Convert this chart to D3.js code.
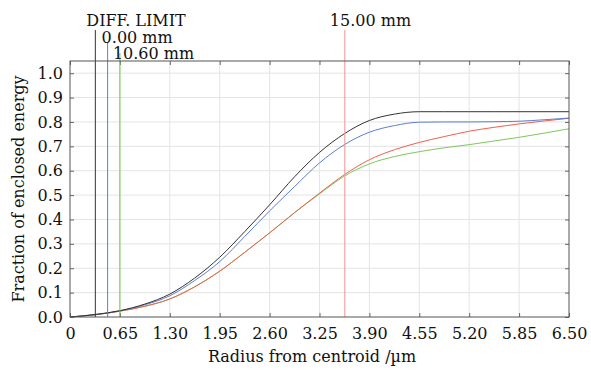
<!DOCTYPE html>
<html>
<head>
<meta charset="utf-8">
<script src="https://cdn.jsdelivr.net/npm/d3@7"></script>
<style>
  body { margin: 0; background: #fff; }
  svg text { font-family: "DejaVu Serif", serif; fill: #111; }
</style>
</head>
<body>
<div id="chart"></div>
<script>
// radius samples (µm)
const radius = [0, 0.325, 0.65, 0.975, 1.3, 1.625, 1.95, 2.275, 2.6, 2.925, 3.25,
  3.575, 3.9, 4.225, 4.55, 4.875, 5.2, 5.525, 5.85, 6.175, 6.5];

// enclosed energy per field
const diffLimit = [0, 0.010, 0.026, 0.053, 0.094, 0.160, 0.245, 0.350, 0.460, 0.575, 0.675,
  0.752, 0.806, 0.832, 0.842, 0.842, 0.842, 0.842, 0.842, 0.842, 0.842];
const field0 = [0, 0.010, 0.025, 0.050, 0.087, 0.150, 0.227, 0.330, 0.435, 0.535, 0.632,
  0.707, 0.758, 0.785, 0.799, 0.800, 0.800, 0.801, 0.803, 0.809, 0.816];
const field15 = [0, 0.009, 0.024, 0.044, 0.074, 0.124, 0.188, 0.265, 0.345, 0.428, 0.508,
  0.584, 0.645, 0.686, 0.716, 0.740, 0.762, 0.778, 0.792, 0.804, 0.815];
const field1060 = [0, 0.009, 0.024, 0.044, 0.074, 0.124, 0.188, 0.265, 0.345, 0.428, 0.505,
  0.578, 0.628, 0.658, 0.678, 0.694, 0.707, 0.722, 0.737, 0.754, 0.772];

// marker lines (radius, label)
const markerNames = ["DIFF. LIMIT", "0.00 mm", "10.60 mm", "15.00 mm"];
const markerRadius = [0.33, 0.49, 0.65, 3.58];

const xTicks = [0, 0.65, 1.3, 1.95, 2.6, 3.25, 3.9, 4.55, 5.2, 5.85, 6.5];
const xTickLabels = ["0", "0.65", "1.30", "1.95", "2.60", "3.25", "3.90", "4.55", "5.20", "5.85", "6.50"];
const yTicks = [0, 0.1, 0.2, 0.3, 0.4, 0.5, 0.6, 0.7, 0.8, 0.9, 1.0];
const yTickLabels = ["0.0", "0.1", "0.2", "0.3", "0.4", "0.5", "0.6", "0.7", "0.8", "0.9", "1.0"];

const W = 591, H = 370;
const margin = {top: 61, right: 22, bottom: 53, left: 70};
const width = W - margin.left - margin.right;
const height = H - margin.top - margin.bottom;

const svg = d3.select("#chart").append("svg")
  .attr("width", W)
  .attr("height", H);

const g = svg.append("g")
  .attr("transform", `translate(${margin.left},${margin.top})`);

const x = d3.scaleLinear().domain([0, 6.5]).range([0, width]);
const y = d3.scaleLinear().domain([0, 1.05]).range([height, 0]);

// grid
g.append("g").selectAll("line").data(xTicks.slice(1, -1)).join("line")
  .attr("x1", d => x(d)).attr("x2", d => x(d))
  .attr("y1", 0).attr("y2", height)
  .attr("stroke", "#e4e4e4");
g.append("g").selectAll("line").data(yTicks.slice(1)).join("line")
  .attr("x1", 0).attr("x2", width)
  .attr("y1", d => y(d)).attr("y2", d => y(d))
  .attr("stroke", "#e4e4e4");

// axes, ticks point inward
const fontSize = 16;
g.append("g")
  .attr("transform", `translate(0,${height})`)
  .call(d3.axisBottom(x).tickValues(xTicks).tickFormat((d, i) => xTickLabels[i])
    .tickSize(-4).tickPadding(11));
g.append("g")
  .call(d3.axisLeft(y).tickValues(yTicks).tickFormat((d, i) => yTickLabels[i])
    .tickSize(-4).tickPadding(7));
g.append("g")
  .call(d3.axisTop(x).tickValues(xTicks).tickFormat("").tickSize(-4));
g.append("g")
  .attr("transform", `translate(${width},0)`)
  .call(d3.axisRight(y).tickValues(yTicks).tickFormat("").tickSize(-4));

g.selectAll(".domain").remove();
g.selectAll(".tick line").attr("stroke", "#666");
g.selectAll(".tick text")
  .style("font-family", '"DejaVu Serif", serif')
  .style("font-size", fontSize + "px")
  .attr("fill", "#111");

// curves
const series = [
  {vals: field1060, color: "#7cc85c"},
  {vals: field15, color: "#f0604c"},
  {vals: field0, color: "#5c7ed2"},
  {vals: diffLimit, color: "#333333"}
];
const line = d3.line()
  .x((d, i) => x(radius[i]))
  .y(d => y(d))
  .curve(d3.curveMonotoneX);
g.append("g").selectAll("path").data(series).join("path")
  .attr("d", d => line(d.vals))
  .attr("fill", "none")
  .attr("stroke", d => d.color)
  .attr("stroke-width", 1);

// marker lines with labels above plot
const markerColors = ["#333333", "#5c7ed2", "#6cc84c", "#f49090"];
const markerTop = [-31, -18, -8, -31];     // px above plot top
const labelDx = [-9, -6, -7, -15];
const labelY = [-35, -18, -2, -35];
const mk = g.append("g");
markerRadius.forEach((r, i) => {
  mk.append("line")
    .attr("x1", x(r)).attr("x2", x(r))
    .attr("y1", markerTop[i]).attr("y2", height)
    .attr("stroke", markerColors[i])
    .attr("stroke-width", 1);
  mk.append("text")
    .attr("x", x(r) + labelDx[i])
    .attr("y", labelY[i])
    .style("font-size", fontSize + "px")
    .text(markerNames[i]);
});

// frame
g.append("rect")
  .attr("width", width).attr("height", height)
  .attr("fill", "none").attr("stroke", "#555");

// titles
svg.append("text")
  .attr("x", 312).attr("y", 362)
  .attr("text-anchor", "middle")
  .style("font-size", fontSize + "px")
  .text("Radius from centroid /µm");
svg.append("text")
  .attr("transform", `translate(24,${margin.top + height / 2}) rotate(-90)`)
  .attr("text-anchor", "middle")
  .style("font-size", fontSize + "px")
  .text("Fraction of enclosed energy");
</script>
</body>
</html>
